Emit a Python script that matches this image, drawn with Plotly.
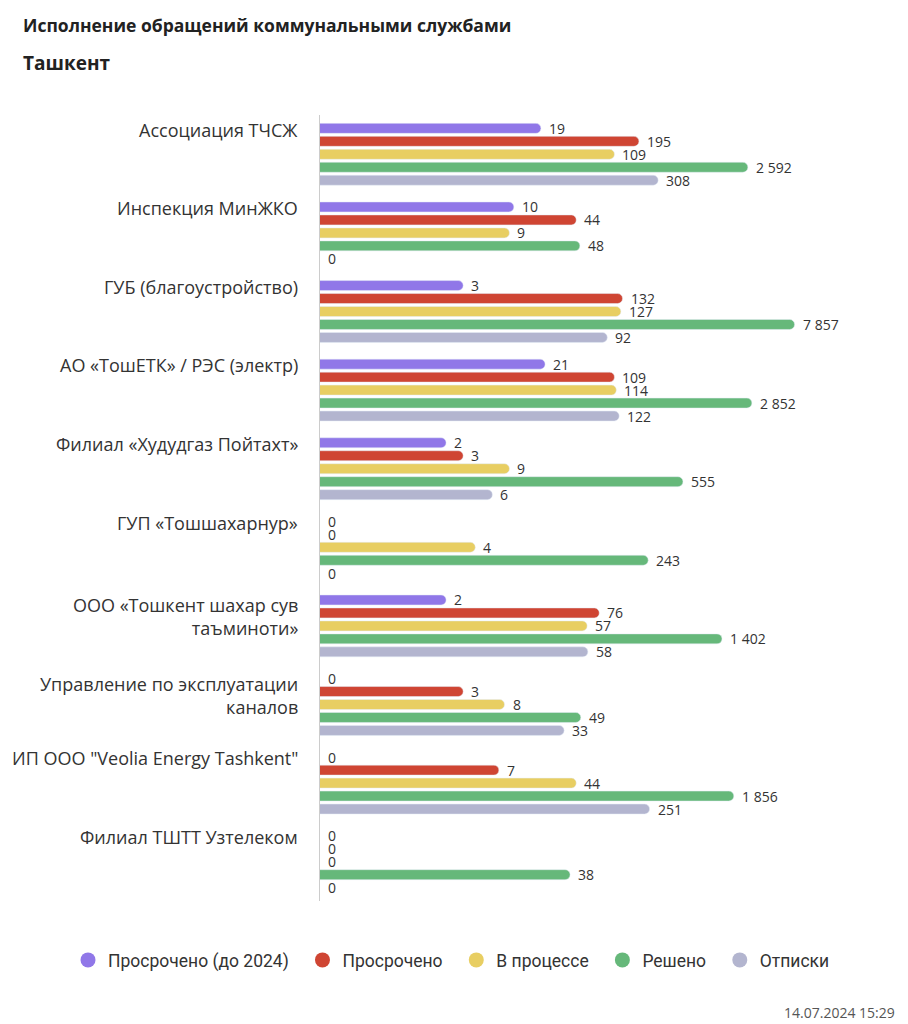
import math
import plotly.graph_objects as go

categories = [
    "Ассоциация ТЧСЖ",
    "Инспекция МинЖКО",
    "ГУБ (благоустройство)",
    "АО «ТошЕТК» / РЭС (электр)",
    "Филиал «Худудгаз Пойтахт»",
    "ГУП «Тошшахарнур»",
    "ООО «Тошкент шахар сув<br>таъминоти»",
    "Управление по эксплуатации<br>каналов",
    "ИП ООО \"Veolia Energy Tashkent\"",
    "Филиал ТШТТ Узтелеком",
]
series_names = ["Просрочено (до 2024)", "Просрочено", "В процессе", "Решено", "Отписки"]
overdue_pre2024 = [19, 10, 3, 21, 2, 0, 2, 0, 0, 0]
overdue = [195, 44, 132, 109, 3, 0, 76, 3, 7, 0]
in_progress = [109, 9, 127, 114, 9, 4, 57, 8, 44, 0]
solved = [2592, 48, 7857, 2852, 555, 243, 1402, 49, 1856, 38]
replies = [308, 0, 92, 122, 6, 0, 58, 33, 251, 0]
colors = ["#9077E8", "#CF4533", "#E8CE62", "#66B87A", "#B3B5CF"]

title = "Исполнение обращений коммунальными службами"
subtitle = "Ташкент"
stamp = "14.07.2024 15:29"

series = [overdue_pre2024, overdue, in_progress, solved, replies]

W, H = 908, 1024
ML, MR, MT, MB = 320, 16, 115, 123
PW, PH = W - ML - MR, H - MT - MB
XMIN, XMAX = -1, 4.9

pitch = 0.165
thick = 0.127
FONT = "Open Sans"
LEGEND_PAD = "\u00a0\u00a0"

def fmt(v):
    return f"{v:,}".replace(",", "\u00a0")

fig = go.Figure()
annotations = []
for j, (name, vals, col) in enumerate(zip(series_names, series, colors)):
    ys = [i + (j - 2) * pitch for i in range(len(categories))]
    xs = [v if v > 0 else None for v in vals]
    fig.add_trace(go.Bar(
        x=xs, y=ys, orientation="h", width=thick, marker_color=col,
        showlegend=False, hoverinfo="skip",
    ))
    for v, y in zip(vals, ys):
        annotations.append(dict(
            x=math.log10(v) if v > 0 else XMIN, xref="x", y=y, yref="y",
            text=fmt(v), showarrow=False, xanchor="left", yanchor="middle",
            xshift=6, font=dict(family=FONT, size=14, color="#333"),
        ))
    fig.add_trace(go.Scatter(
        x=[None], y=[None], mode="markers", name=name + LEGEND_PAD,
        marker=dict(symbol="circle", size=15, color=col),
    ))

for i, c in enumerate(categories):
    n_lines = c.count("<br>") + 1
    annotations.append(dict(
        x=0, xref="paper", y=i - 2 * pitch - thick / 2 - (0.10 if n_lines == 1 else 0.05),
        yref="y", text=c, showarrow=False, xanchor="right", yanchor="top", xshift=-20,
        align="right", font=dict(family=FONT, size=18, color="#333"),
    ))
annotations.append(dict(
    x=(21 - ML) / PW, xref="paper", y=(MT + PH - 63) / PH, yref="paper",
    text=f"<b>{subtitle}</b>", showarrow=False, xanchor="left", yanchor="middle",
    font=dict(family=FONT, size=19, color="#222"),
))
annotations.append(dict(
    x=(897 - ML) / PW, xref="paper", y=(MT + PH - 1012) / PH, yref="paper",
    text=stamp, showarrow=False, xanchor="right", yanchor="middle",
    font=dict(family=FONT, size=14, color="#555"),
))

fig.update_layout(
    width=W, height=H, margin=dict(l=ML, r=MR, t=MT, b=MB),
    plot_bgcolor="white", paper_bgcolor="white",
    barcornerradius=5,
    title=dict(text=f"<b>{title}</b>", x=23 / W, xanchor="left", xref="container",
               y=1 - 26 / H, yanchor="middle", yref="container",
               font=dict(family=FONT, size=17.5, color="#222")),
    xaxis=dict(type="log", range=[XMIN, XMAX], visible=False, showgrid=False),
    yaxis=dict(range=[len(categories) - 0.5, -0.5], showticklabels=False, showgrid=False,
               zeroline=False, showline=True, linecolor="#cccccc", linewidth=1, ticks=""),
    legend=dict(orientation="h", x=(68 - ML) / PW, xanchor="left", xref="paper",
                y=(MT + PH - 960) / PH, yanchor="middle", yref="paper",
                font=dict(family="Roboto", size=17.5, color="#333")),
    annotations=annotations,
)

fig.write_html("out.html")
